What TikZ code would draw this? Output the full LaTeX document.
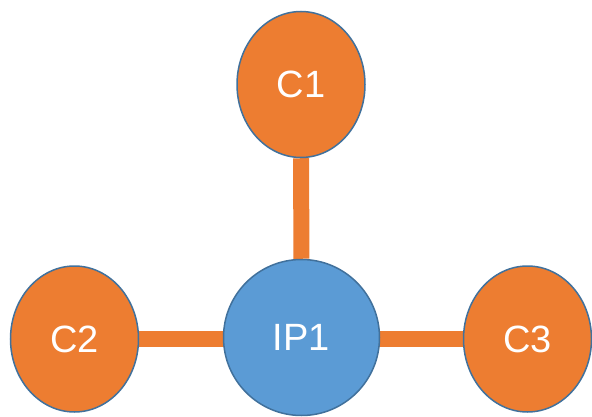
\documentclass[tikz,border=0pt]{standalone}
\usepackage{fontspec}
\setmainfont{Liberation Sans}
\usetikzlibrary{shapes.geometric,backgrounds}
\definecolor{corange}{HTML}{ED7D31}
\definecolor{cblue}{HTML}{5B9BD5}
\definecolor{cedge}{HTML}{41719C}
\begin{document}
\begin{tikzpicture}[x=1pt,y=-1pt,
  cnode/.style={ellipse,draw=cedge,line width=1.5pt,fill=corange,inner sep=0pt,
    minimum width=128pt,minimum height=146pt,text=white,font=\fontsize{38}{40}\selectfont},
  hub/.style={circle,draw=cedge,line width=1.5pt,fill=cblue,inner sep=0pt,
    minimum size=156pt,text=white,font=\fontsize{38}{40}\selectfont},
  link/.style={draw=corange,line width=16pt}]
\useasboundingbox (0,0) rectangle (592,417);
\node[cnode] (c1) at (301,84.5) {C1};
\node[cnode] (c2) at (74.5,339) {C2};
\node[cnode] (c3) at (527.5,339) {C3};
\node[hub] (ip1) at (301.5,337.5) {IP1};
\begin{scope}[on background layer]
\draw[link] (c1) -- (ip1);
\draw[link] (c2.east) -- (ip1.center |- c2.east);
\draw[link] (c3.west) -- (ip1.center |- c3.west);
\end{scope}
\end{tikzpicture}
\end{document}
